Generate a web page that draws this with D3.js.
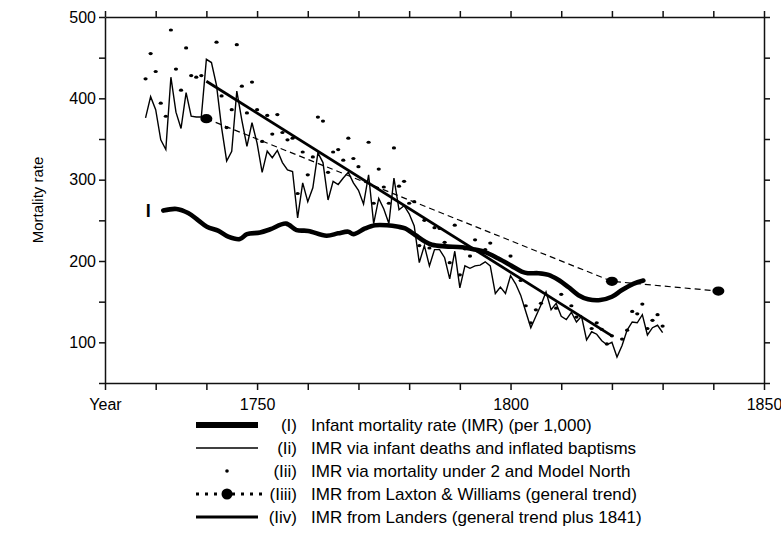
<!DOCTYPE html>
<html>
<head>
<meta charset="utf-8">
<script src="https://cdn.jsdelivr.net/npm/d3@7"></script>
<style>
body { margin: 0; background: #fff; }
svg text { font-family: "Liberation Sans", Arial, sans-serif; fill: #000; }
</style>
</head>
<body>
<svg width="781" height="534"></svg>
<script>

// (I) infant mortality rate, thick line
var imrYears = [1731.5, 1734.1, 1736.4, 1738.4, 1740.1, 1742.4, 1744.3, 1746.6, 1748, 1750.6,
    1752.6, 1755.7, 1757.8, 1760.1, 1763.7, 1766, 1768, 1769, 1771.3, 1773.3,
    1775.6, 1777.9, 1779.2, 1781.2, 1783.1, 1784.5, 1787.1, 1790.4, 1793, 1795,
    1797.6, 1800.2, 1802.2, 1803.4, 1805.5, 1807.5, 1809.4, 1811.4, 1813.4, 1815.3,
    1817.7, 1820, 1821.9, 1824.2, 1826.2];
var imrValues = [262, 264, 259, 250, 242, 237, 230, 227, 233, 235,
    239, 246, 238, 237, 231, 234, 236, 233, 240, 244,
    244, 242, 240, 232, 224, 220, 218, 217, 214, 211,
    203, 194, 187, 185, 185, 183, 177, 168, 158, 153,
    152, 156, 164, 172, 176];

// (Ii) infant deaths and inflated baptisms, one value a year 1728-1830
var baptFirstYear = 1728;
var baptValues = [376, 402, 386, 349, 337, 426, 383, 363, 407, 378,
    377, 377, 448, 444, 416, 364, 323, 335, 409, 373,
    341, 370, 345, 309, 335, 327, 336, 321, 312, 310,
    253, 296, 273, 290, 333, 321, 275, 298, 294, 302,
    309, 296, 287, 270, 306, 246, 277, 264, 246, 302,
    263, 268, 258, 243, 198, 219, 194, 214, 214, 204,
    178, 212, 167, 194, 191, 194, 195, 199, 194, 160,
    168, 160, 182, 172, 158, 138, 118, 132, 146, 162,
    140, 148, 132, 128, 137, 125, 132, 103, 113, 110,
    102, 97, 100, 82, 96, 115, 125, 124, 134, 109,
    118, 121, 112];

// (Iii) mortality under 2 and Model North, dots
var dotYears = [1728, 1729, 1730, 1731, 1732, 1733, 1734, 1735, 1736, 1737,
    1738, 1739, 1742, 1743, 1744, 1745, 1746, 1747, 1748, 1749,
    1750, 1751, 1752, 1753, 1754, 1755, 1756, 1757, 1758, 1759,
    1760, 1761, 1762, 1763, 1764, 1765, 1766, 1767, 1768, 1769,
    1770, 1772, 1773, 1774, 1775, 1776, 1777, 1778, 1779, 1780,
    1781, 1782, 1783, 1784, 1785, 1786, 1787, 1788, 1789, 1790,
    1791, 1792, 1793, 1795, 1796, 1800, 1802, 1803, 1804, 1805,
    1806, 1809, 1810, 1812, 1813, 1816, 1817, 1818, 1819, 1820,
    1822, 1823, 1824, 1825, 1826, 1827, 1828, 1829, 1830];
var dotValues = [424, 455, 433, 394, 378, 484, 436, 410, 462, 428,
    426, 428, 469, 403, 364, 386, 466, 415, 382, 420,
    386, 347, 379, 356, 380, 358, 349, 351, 283, 334,
    306, 328, 377, 372, 309, 334, 337, 324, 351, 326,
    316, 346, 271, 313, 291, 271, 339, 292, 298, 271,
    273, 219, 250, 216, 241, 240, 223, 198, 244, 183,
    215, 206, 226, 214, 222, 206, 176, 145, 124, 140,
    148, 142, 159, 145, 131, 117, 124, 116, 98, 108,
    104, 115, 138, 135, 147, 117, 127, 134, 120];

// (Iiii) Laxton & Williams
var laxtonYears = [1740, 1820, 1841];
var laxtonValues = [375, 175, 163];

// (Iiv) Landers
var landersYears = [1740, 1820];
var landersValues = [421, 108];

var xTicks = [1720, 1730, 1740, 1750, 1760, 1770, 1780, 1790, 1800, 1810, 1820, 1830, 1840, 1850];
var yTicks = [50, 100, 150, 200, 250, 300, 350, 400, 450, 500];

var legendKeys = ["(I)", "(Ii)", "(Iii)", "(Iiii)", "(Iiv)"];
var legendTexts = [
    "Infant mortality rate (IMR) (per 1,000)",
    "IMR via infant deaths and inflated baptisms",
    "IMR via mortality under 2 and Model North",
    "IMR from Laxton & Williams (general trend)",
    "IMR from Landers (general trend plus 1841)"
];

function pairs(xs, ys) {
    return xs.map(function(d, i) { return [d, ys[i]]; });
}

function draw() {
    var svg = d3.select("svg");
    var left = 105, right = 764, top = 17, bottom = 383;

    var x = d3.scaleLinear().domain([1720, 1850]).range([left, right]);
    var y = d3.scaleLinear().domain([50, 500]).range([bottom, top]);

    // frame and ticks
    svg.append("g")
        .attr("class", "axis xb")
        .attr("transform", "translate(0," + bottom + ")")
        .call(d3.axisBottom(x).tickValues(xTicks).tickSize(7).tickSizeOuter(0)
            .tickFormat(function(d) { return d == 1720 ? "Year" : (d % 50 == 0 ? d : ""); }));
    svg.append("g")
        .attr("class", "axis")
        .attr("transform", "translate(0," + top + ")")
        .call(d3.axisTop(x).tickValues(xTicks).tickSize(6).tickSizeOuter(0).tickFormat(""));
    svg.append("g")
        .attr("class", "axis")
        .attr("transform", "translate(" + left + ",0)")
        .call(d3.axisLeft(y).tickValues(yTicks).tickSize(6).tickSizeOuter(0)
            .tickFormat(function(d) { return d % 100 == 0 ? d : ""; }));
    svg.append("g")
        .attr("class", "axis")
        .attr("transform", "translate(" + right + ",0)")
        .call(d3.axisRight(y).tickValues(yTicks).tickSize(6).tickSizeOuter(0).tickFormat(""));

    svg.selectAll(".axis path, .axis line")
        .attr("stroke", "#111")
        .attr("stroke-width", 1.5);
    svg.selectAll(".axis text")
        .attr("font-size", "16px")
        .attr("font-family", "'Liberation Sans', Arial, sans-serif")
        .attr("fill", "#000");
    svg.selectAll(".xb text")
        .attr("dy", "1.05em");

    svg.append("text")
        .attr("transform", "translate(43,200) rotate(-90)")
        .attr("text-anchor", "middle")
        .attr("font-size", "15px")
        .text("Mortality rate");

    var line = d3.line()
        .x(function(d) { return x(d[0]); })
        .y(function(d) { return y(d[1]); });

    // (Ii) thin line
    var bapt = baptValues.map(function(v, i) { return [baptFirstYear + i, v]; });
    svg.append("path")
        .datum(bapt)
        .attr("d", line)
        .attr("fill", "none")
        .attr("stroke", "#000")
        .attr("stroke-width", 1.4)
        .attr("stroke-linejoin", "miter");

    // (Iii) dots
    svg.selectAll(".dot")
        .data(pairs(dotYears, dotValues))
        .enter()
        .append("ellipse")
        .attr("class", "dot")
        .attr("cx", function(d) { return x(d[0]); })
        .attr("cy", function(d) { return y(d[1]); })
        .attr("rx", 2.1)
        .attr("ry", 1.6)
        .attr("fill", "#000");

    // (Iiii) dashed trend
    var laxton = pairs(laxtonYears, laxtonValues);
    svg.append("path")
        .datum(laxton)
        .attr("d", line)
        .attr("fill", "none")
        .attr("stroke", "#000")
        .attr("stroke-width", 1.2)
        .attr("stroke-dasharray", "6,4");

    // (Iiv) Landers
    svg.append("path")
        .datum(pairs(landersYears, landersValues))
        .attr("d", line)
        .attr("fill", "none")
        .attr("stroke", "#000")
        .attr("stroke-width", 2.8);

    // (I) thick
    svg.append("path")
        .datum(pairs(imrYears, imrValues))
        .attr("d", line.curve(d3.curveCatmullRom))
        .attr("fill", "none")
        .attr("stroke", "#000")
        .attr("stroke-width", 4.6)
        .attr("stroke-linejoin", "round")
        .attr("stroke-linecap", "round");
    line.curve(d3.curveLinear);

    svg.selectAll(".lax")
        .data(laxton)
        .enter()
        .append("ellipse")
        .attr("class", "lax")
        .attr("cx", function(d) { return x(d[0]); })
        .attr("cy", function(d) { return y(d[1]); })
        .attr("rx", 6)
        .attr("ry", 4.6)
        .attr("fill", "#000");

    svg.append("text")
        .attr("x", x(imrYears[0]) - 15)
        .attr("y", y(imrValues[0]) + 6)
        .attr("text-anchor", "middle")
        .attr("font-family", "'Liberation Serif', 'DejaVu Serif', serif")
        .attr("font-weight", "bold")
        .attr("font-size", "18px")
        .text("I");

    // legend
    var lx0 = 196, lx1 = 258, rowH = 23, ly = 425;
    var leg = svg.selectAll(".leg")
        .data(legendKeys)
        .enter()
        .append("g")
        .attr("class", "leg")
        .attr("transform", function(d, i) { return "translate(0," + (ly + i * rowH) + ")"; });

    leg.filter(function(d, i) { return i != 2 && i != 3; })
        .append("line")
        .attr("x1", lx0)
        .attr("x2", lx1)
        .attr("stroke", "#000")
        .attr("stroke-width", function(d) { return [6, 1.3, 0, 3, 2.8][legendKeys.indexOf(d)]; });
    leg.filter(function(d) { return d == "(Iiii)"; })
        .append("line")
        .attr("x1", lx0)
        .attr("x2", lx1 + 4)
        .attr("stroke", "#000")
        .attr("stroke-width", 3)
        .attr("stroke-dasharray", "3,6");
    leg.filter(function(d) { return d == "(Iii)"; })
        .append("circle")
        .attr("cx", (lx0 + lx1) / 2)
        .attr("r", 1.8);
    leg.filter(function(d) { return d == "(Iiii)"; })
        .append("circle")
        .attr("cx", (lx0 + lx1) / 2)
        .attr("r", 5.5);

    leg.append("text")
        .attr("x", 297)
        .attr("dy", "0.35em")
        .attr("text-anchor", "end")
        .attr("font-size", "17px")
        .text(function(d) { return d; });
    leg.append("text")
        .attr("x", 311)
        .attr("dy", "0.35em")
        .attr("font-size", "17px")
        .text(function(d, i) { return legendTexts[i]; });
}

window.onload = function() {
    draw();
};
</script>
</body>
</html>
